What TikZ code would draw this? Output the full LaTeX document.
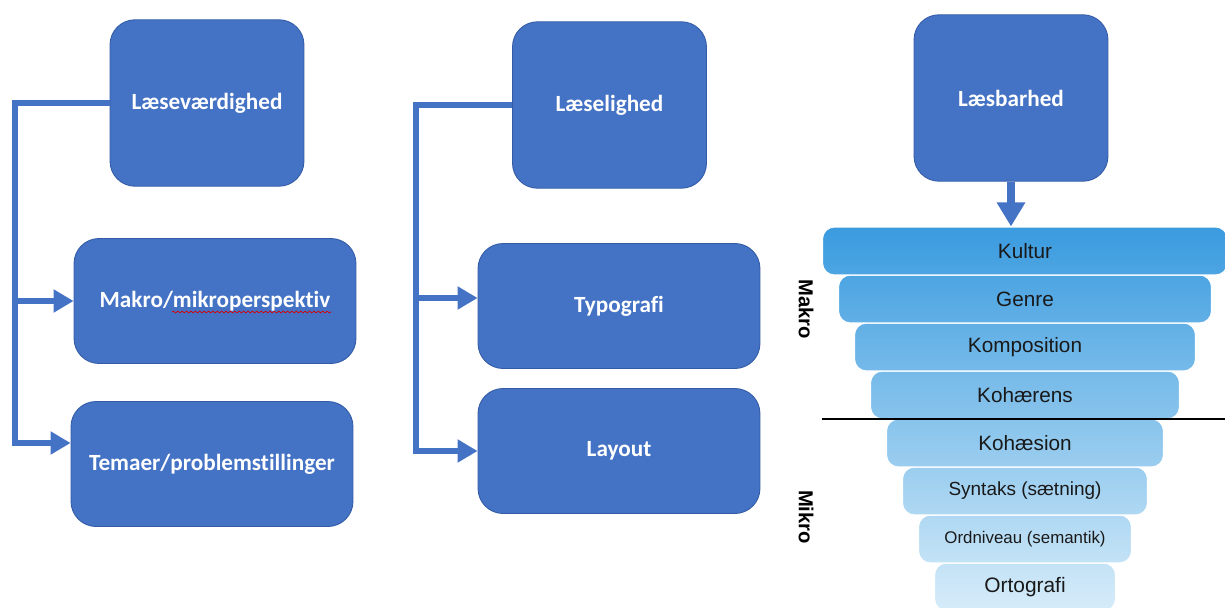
\documentclass[tikz,border=0pt]{standalone}
\usepackage{fontspec}
\setmainfont{Carlito}[Ligatures=NoCommon]
\newfontfamily\arialfont{Liberation Sans}[Ligatures=NoCommon]
\usetikzlibrary{arrows.meta,positioning,calc,decorations.pathmorphing}
\definecolor{boxblue}{RGB}{68,114,196}
\definecolor{boxedge}{RGB}{52,92,166}
\definecolor{funneltop}{RGB}{58,155,223}
\definecolor{funnelbot}{RGB}{214,236,249}
\definecolor{layertext}{RGB}{25,25,25}
\tikzset{x=0.02cm,y=-0.02cm,
         topbox/.style={rectangle,rounded corners=0.5cm,fill=boxblue,
           draw=boxedge,line width=0.5pt,text=white,
           font=\bfseries\fontsize{13.2}{15}\selectfont,
           minimum width=3.88cm,minimum height=3.33cm},
         subbox/.style={topbox,minimum width=5.64cm,minimum height=2.5cm},
         rail/.style={draw=boxblue,line width=3.4pt},
         feed/.style={rail,-{Triangle[length=0.4cm,width=0.44cm]}},
         layer/.style={rectangle,rounded corners=0.24cm,draw=white,
           line width=0.6pt,minimum height=0.96cm,text=layertext},
         sidelabel/.style={rotate=-90,
           font=\arialfont\bfseries\fontsize{11.5}{13}\selectfont}}

\begin{document}
\begin{tikzpicture}
\useasboundingbox (0,0) rectangle (1225,608);

% left tree
\node[topbox] (lv) at (207,103) {Læseværdighed};
\node[subbox] (mm) at (215,301) {Makro/mikroperspektiv};
\node[subbox] (tp) at (212,464) {Temaer/problemstillinger};
\draw[red!85!black,line width=0.4pt,decorate,
      decoration={snake,amplitude=0.5pt,segment length=2.5pt}]
  ($(mm.center)+(-43,11)$) -- ($(mm.center)+(116,11)$);
\coordinate (lvrail) at (15,0);
\coordinate (tpin) at ($(tp.west)+(0,-21)$);
\draw[feed] (lv.west) -| (lvrail |- tpin) -- (tpin);
\draw[feed] (lvrail |- mm.west) -- (mm.west);

% middle tree
\node[topbox] (ll) at (609.5,105) {Læselighed};
\node[subbox] (ty) at (619,306) {Typografi};
\node[subbox] (lo) at (619,451) {Layout};
\coordinate (llrail) at (416,0);
\coordinate (tyin) at ($(ty.west)+(0,-8)$);
\draw[feed] (ll.west) -| (llrail |- lo.west) -- (lo.west);
\draw[feed] (llrail |- tyin) -- (tyin);

% funnel, drawn bottom-up so each layer sits on the one below
\node[topbox] (lb) at (1011,98) {Læsbarhed};
\foreach \nm/\txt/\k/\p/\q/\fs in {
    ort/Ortografi/7/12/0/11.9,
    ord/Ordniveau (semantik)/6/25/12/9.6,
    sy/Syntaks (sætning)/5/38/25/10.8,
    ks/Kohæsion/4/50/38/11.8,
    kh/Kohærens/3/62/50/11.8,
    ko/Komposition/2/75/62/11.8,
    ge/Genre/1/88/75/11.8,
    ku/Kultur/0/100/88/11.8}
  \node[layer,minimum width={(405-32*\k)*0.02cm},
        top color=funneltop!\p!funnelbot,bottom color=funneltop!\q!funnelbot,
        font=\arialfont\fontsize{\fs}{14}\selectfont]
    (\nm) at (1025,{251+48*\k}) {\txt};
\coordinate (split) at ($(kh.south)!0.5!(ks.north)$);
\draw[line width=1.1pt] (ku.west |- split) -- (ku.east |- split);
\draw[rail,line width=4pt,-{Triangle[length=0.48cm,width=0.54cm]}]
  (lb.south) -- (lb.south |- ku.north);

\node[sidelabel] (makro) at (806,309) {Makro};
\node[sidelabel] (mikro) at (806,517) {Mikro};
\end{tikzpicture}
\end{document}
